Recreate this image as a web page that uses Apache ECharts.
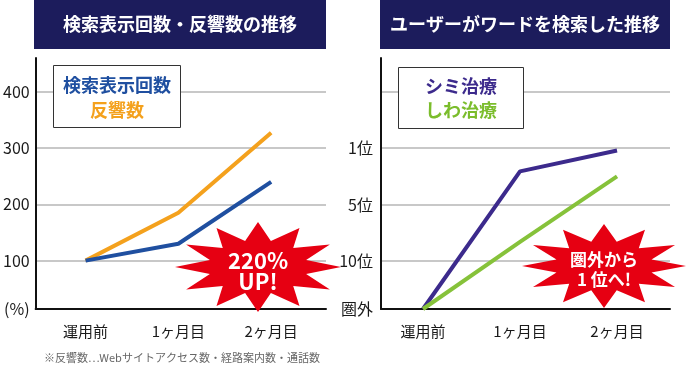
<!DOCTYPE html>
<html>
<head>
<meta charset="utf-8">
<script src="https://cdn.jsdelivr.net/npm/echarts@6/dist/echarts.min.js"></script>
<style>
html,body{margin:0;padding:0;background:#fff;}
#c{width:686px;height:371px;}
</style>
</head>
<body>
<div id="c"></div>
<script>
// ---- data ----
var categories = ['運用前', '1ヶ月目', '2ヶ月目'];
// left chart (%)
var searchViews = [100, 130, 240];   // 検索表示回数
var responses = [100, 185, 327];     // 反響数
var leftTicks = [100, 200, 300, 400];
var leftBase = 14;                   // baseline value labelled (%)
// right chart (rank levels: 圏外=0.15, 10位=1, 5位=2, 1位=3)
var rankLabels = ['圏外', '10位', '5位', '1位'];
var rankLevels = [0.15, 1, 2, 3];
var rankGrid = [1, 2, 3, 4];
var shimi = [0.15, 2.59, 2.96];      // シミ治療
var shiwa = [0.15, 1.34, 2.5];       // しわ治療

var FONT = '"Noto Sans CJK JP", "Noto Sans", sans-serif';
var NAVY = '#1c1c5c';
var C_BLUE = '#1f4fa0', C_ORANGE = '#f4a11d', C_PURPLE = '#3c2a8c', C_GREEN = '#86c23a';

function pairs(arr) { return arr.map(function (v, i) { return [i, v]; }); }

function star(cx, cy, rx, ry, n, inner) {
  var pts = [];
  for (var i = 0; i < n * 2; i++) {
    var a = -Math.PI / 2 + i * Math.PI / n;
    var r = (i % 2 === 0) ? 1 : inner;
    pts.push([cx + Math.cos(a) * rx * r, cy + Math.sin(a) * ry * r]);
  }
  return pts;
}

var chart = echarts.init(document.getElementById('c'), null, {renderer: 'canvas'});

var axisLineStyle = {color: '#111', width: 2};
var gridLine = {show: true, lineStyle: {color: '#c8c8c8', width: 2}};

var option = {
  backgroundColor: '#fff',
  animation: false,
  grid: [
    {left: 35, top: 58, width: 291, height: 251},
    {left: 381, top: 58, width: 289, height: 251}
  ],
  xAxis: [
    {gridIndex: 0, type: 'value', min: -0.538, max: 2.591,
     axisLine: {show: true, onZero: false, lineStyle: axisLineStyle}, axisTick: {show: false}, splitLine: {show: false},
     axisLabel: {customValues: [0, 1, 2], margin: 15, color: '#1a1a1a', fontSize: 15, fontFamily: FONT,
       formatter: function (v) { return categories[Math.round(v)]; }}},
    {gridIndex: 1, type: 'value', min: -0.433, max: 2.546,
     axisLine: {show: true, onZero: false, lineStyle: axisLineStyle}, axisTick: {show: false}, splitLine: {show: false},
     axisLabel: {customValues: [0, 1, 2], margin: 15, color: '#1a1a1a', fontSize: 15, fontFamily: FONT,
       formatter: function (v) { return categories[Math.round(v)]; }}}
  ],
  yAxis: [
    {gridIndex: 0, type: 'value', min: leftBase, max: 460,
     axisLine: {show: true, onZero: false, lineStyle: axisLineStyle},
     axisTick: {show: false, customValues: leftTicks},
     splitLine: gridLine,
     axisLabel: {customValues: [leftBase].concat(leftTicks), margin: 6, color: '#1a1a1a', fontSize: 16, fontFamily: FONT,
       formatter: function (v) { return v === leftBase ? '(%)' : String(v); }}},
    {gridIndex: 1, type: 'value', min: 0.15, max: 4.6,
     axisLine: {show: true, onZero: false, lineStyle: axisLineStyle},
     axisTick: {show: false, customValues: rankGrid},
     splitLine: gridLine,
     axisLabel: {customValues: rankLevels, margin: 8, color: '#1a1a1a', fontSize: 16, fontFamily: FONT,
       formatter: function (v) { var i = rankLevels.indexOf(v); return i >= 0 ? rankLabels[i] : ''; }}}
  ],
  series: [
    {name: '反響数', type: 'line', xAxisIndex: 0, yAxisIndex: 0, data: pairs(responses), symbol: 'none',
     lineStyle: {color: C_ORANGE, width: 4}, z: 3},
    {name: '検索表示回数', type: 'line', xAxisIndex: 0, yAxisIndex: 0, data: pairs(searchViews), symbol: 'none',
     lineStyle: {color: C_BLUE, width: 4}, z: 4},
    {name: 'シミ治療', type: 'line', xAxisIndex: 1, yAxisIndex: 1, data: pairs(shimi), symbol: 'none',
     lineStyle: {color: C_PURPLE, width: 4}, z: 3},
    {name: 'しわ治療', type: 'line', xAxisIndex: 1, yAxisIndex: 1, data: pairs(shiwa), symbol: 'none',
     lineStyle: {color: C_GREEN, width: 4}, z: 4}
  ],
  graphic: [
    // title boxes
    {type: 'rect', left: 34, top: 0, shape: {width: 292, height: 49}, style: {fill: NAVY}, z: 10},
    {type: 'text', x: 180, y: 24, z: 11, style: {text: '検索表示回数・反響数の推移', fill: '#fff',
      font: 'bold 18px ' + FONT, textAlign: 'center', textVerticalAlign: 'middle'}},
    {type: 'rect', left: 380, top: 0, shape: {width: 290, height: 49}, style: {fill: NAVY}, z: 10},
    {type: 'text', x: 525, y: 24, z: 11, style: {text: 'ユーザーがワードを検索した推移', fill: '#fff',
      font: 'bold 18px ' + FONT, textAlign: 'center', textVerticalAlign: 'middle'}},
    // legend boxes
    {type: 'rect', shape: {x: 53.5, y: 65.5, width: 127, height: 62}, style: {fill: '#fff', stroke: '#333', lineWidth: 1}, z: 10},
    {type: 'text', x: 117, y: 85, z: 11, style: {text: '検索表示回数', fill: C_BLUE, font: 'bold 18px ' + FONT, textAlign: 'center', textVerticalAlign: 'middle'}},
    {type: 'text', x: 117, y: 110, z: 11, style: {text: '反響数', fill: C_ORANGE, font: 'bold 18px ' + FONT, textAlign: 'center', textVerticalAlign: 'middle'}},
    {type: 'rect', shape: {x: 398.5, y: 67.5, width: 125, height: 61}, style: {fill: '#fff', stroke: '#333', lineWidth: 1}, z: 10},
    {type: 'text', x: 461, y: 86, z: 11, style: {text: 'シミ治療', fill: C_PURPLE, font: 'bold 18px ' + FONT, textAlign: 'center', textVerticalAlign: 'middle'}},
    {type: 'text', x: 461, y: 110, z: 11, style: {text: 'しわ治療', fill: '#7bbd2c', font: 'bold 18px ' + FONT, textAlign: 'center', textVerticalAlign: 'middle'}},
    // starbursts
    {type: 'polygon', shape: {points: star(258, 267, 83, 45, 12, 0.6)}, style: {fill: '#e60012'}, z: 20},
    {type: 'text', x: 258, y: 271, z: 21, style: {text: '220%\nUP!', fill: '#fff', font: 'bold 22px ' + FONT,
      lineHeight: 21, textAlign: 'center', textVerticalAlign: 'middle'}},
    {type: 'polygon', shape: {points: star(604, 266, 82, 42, 12, 0.6)}, style: {fill: '#e60012'}, z: 20},
    {type: 'text', x: 604, y: 270, z: 21, style: {text: '圏外から\n1 位へ!', fill: '#fff', font: 'bold 17px ' + FONT,
      lineHeight: 20, textAlign: 'center', textVerticalAlign: 'middle'}},
    // footnote
    {type: 'text', x: 182, y: 358, z: 11, style: {text: '※反響数…Webサイトアクセス数・経路案内数・通話数', fill: '#666',
      font: '11px ' + FONT, textAlign: 'center', textVerticalAlign: 'middle'}}
  ]
};
chart.setOption(option);
</script>
</body>
</html>
